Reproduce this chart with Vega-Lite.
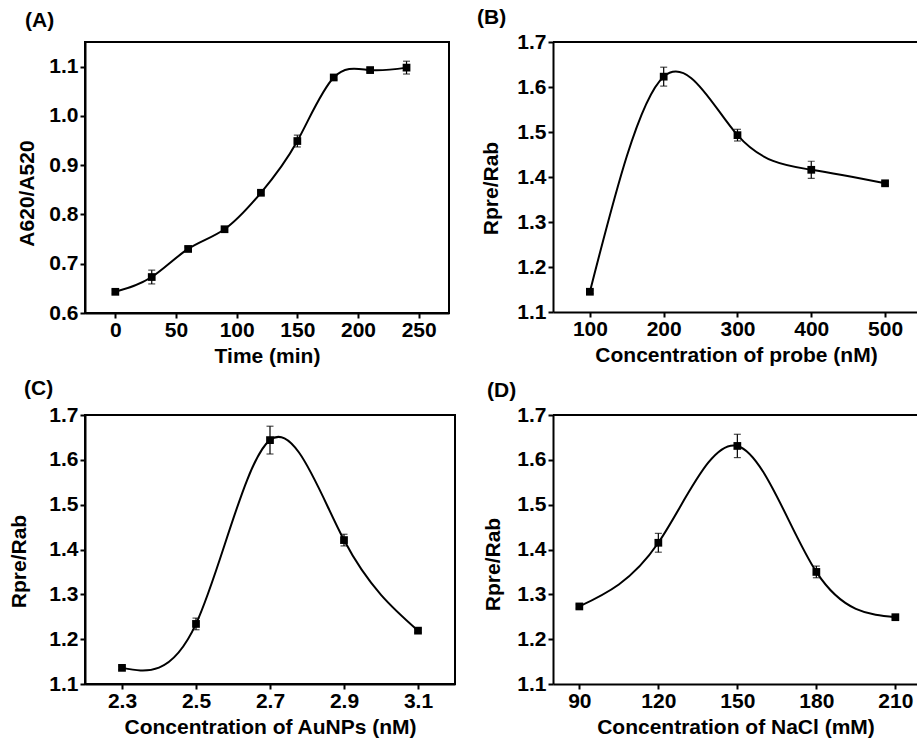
{
  "$schema": "https://vega.github.io/schema/vega-lite/v6.json",
  "background": "white",
  "padding": {"left": 7, "top": 7, "right": 0, "bottom": 5},
  "datasets": {
    "A": [
      {"x": 0, "y": 0.643, "err": 0.004},
      {"x": 30, "y": 0.673, "err": 0.014},
      {"x": 60, "y": 0.730, "err": 0.004},
      {"x": 90, "y": 0.770, "err": 0.004},
      {"x": 120, "y": 0.844, "err": 0.004},
      {"x": 150, "y": 0.949, "err": 0.012},
      {"x": 180, "y": 1.078, "err": 0.004},
      {"x": 210, "y": 1.093, "err": 0.004},
      {"x": 240, "y": 1.098, "err": 0.013}
    ],
    "B": [
      {"x": 100, "y": 1.145, "err": 0.004},
      {"x": 200, "y": 1.623, "err": 0.021},
      {"x": 300, "y": 1.493, "err": 0.013},
      {"x": 400, "y": 1.416, "err": 0.019},
      {"x": 500, "y": 1.386, "err": 0.004}
    ],
    "C": [
      {"x": 2.3, "y": 1.136, "err": 0.004},
      {"x": 2.5, "y": 1.234, "err": 0.013},
      {"x": 2.7, "y": 1.644, "err": 0.031},
      {"x": 2.9, "y": 1.421, "err": 0.013},
      {"x": 3.1, "y": 1.219, "err": 0.004}
    ],
    "D": [
      {"x": 90, "y": 1.273, "err": 0.004},
      {"x": 120, "y": 1.415, "err": 0.021},
      {"x": 150, "y": 1.631, "err": 0.026},
      {"x": 180, "y": 1.350, "err": 0.013},
      {"x": 210, "y": 1.249, "err": 0.004}
    ]
  },
  "config": {
    "font": "Liberation Sans",
    "view": {"stroke": "black", "strokeWidth": 2},
    "axis": {
      "grid": false,
      "domainColor": "black",
      "domainWidth": 2,
      "tickColor": "black",
      "tickWidth": 2,
      "tickSize": 5,
      "labelFont": "Liberation Sans",
      "labelFontWeight": "bold",
      "labelFontSize": 21,
      "labelColor": "black",
      "titleFont": "Liberation Sans",
      "titleFontWeight": "bold",
      "titleFontSize": 21,
      "titleColor": "black"
    },
    "axisX": {"labelPadding": 1, "titlePadding": 5},
    "axisY": {"labelPadding": 2},
    "title": {"font": "Liberation Sans", "fontWeight": "bold", "fontSize": 21, "color": "black", "anchor": "start", "frame": "group", "baseline": "alphabetic"}
  },
  "columns": 2,
  "bounds": "flush",
  "spacing": {"row": 102, "column": 98},
  "concat": [
    {
      "width": 364,
      "height": 271,
      "title": {"text": "(A)", "dx": -60, "offset": 11},
      "data": {"name": "A"},
      "layer": [
        {
          "mark": {"type": "line", "interpolate": "natural", "color": "black", "strokeWidth": 2},
          "encoding": {
            "x": {"field": "x", "type": "quantitative", "title": "Time (min)",
                  "scale": {"domain": [-25, 275], "nice": false, "zero": false},
                  "axis": {"values": [0, 25, 50, 75, 100, 125, 150, 175, 200, 225, 250], "format": "d",
                           "labelExpr": "datum.value % 50 === 0 ? datum.label : ''",
                           "tickSize": {"condition": {"test": "datum.value % 50 === 0", "value": 5}, "value": 3}}},
            "y": {"field": "y", "type": "quantitative", "title": "A620/A520",
                  "scale": {"domain": [0.6, 1.15], "nice": false, "zero": false},
                  "axis": {"values": [0.6, 0.7, 0.8, 0.9, 1.0, 1.1], "format": ".1f", "titlePadding": 11, "titleY": 151}}
          }
        },
        {
          "mark": {"type": "errorbar", "color": "black", "thickness": 1.2, "ticks": {"size": 7, "thickness": 1.2, "color": "black"}},
          "encoding": {
            "x": {"field": "x", "type": "quantitative", "title": "Time (min)"},
            "y": {"field": "y", "type": "quantitative", "title": "A620/A520"},
            "yError": {"field": "err"}
          }
        },
        {
          "mark": {"type": "point", "shape": "square", "filled": true, "size": 60, "color": "black", "opacity": 1},
          "encoding": {
            "x": {"field": "x", "type": "quantitative", "title": "Time (min)"},
            "y": {"field": "y", "type": "quantitative", "title": "A620/A520"}
          }
        }
      ]
    },
    {
      "width": 366,
      "height": 270,
      "view": {"stroke": null},
      "title": {"text": "(B)", "dx": -76, "offset": 3},
      "data": {"name": "B"},
      "layer": [
        {
          "mark": {"type": "rule", "color": "black", "strokeWidth": 2},
          "encoding": {"y": {"datum": 1.7}}
        },
        {
          "mark": {"type": "line", "interpolate": "natural", "color": "black", "strokeWidth": 2},
          "encoding": {
            "x": {"field": "x", "type": "quantitative", "title": "Concentration of probe (nM)",
                  "scale": {"domain": [50, 546], "nice": false, "zero": false},
                  "axis": {"values": [100, 200, 300, 400, 500], "format": "d"}},
            "y": {"field": "y", "type": "quantitative", "title": "Rpre/Rab",
                  "scale": {"domain": [1.1, 1.7], "nice": false, "zero": false},
                  "axis": {"values": [1.1, 1.2, 1.3, 1.4, 1.5, 1.6, 1.7], "format": ".1f", "titlePadding": 15, "titleY": 146}}
          }
        },
        {
          "mark": {"type": "errorbar", "color": "black", "thickness": 1.2, "ticks": {"size": 7, "thickness": 1.2, "color": "black"}},
          "encoding": {
            "x": {"field": "x", "type": "quantitative", "title": "Concentration of probe (nM)"},
            "y": {"field": "y", "type": "quantitative", "title": "Rpre/Rab"},
            "yError": {"field": "err"}
          }
        },
        {
          "mark": {"type": "point", "shape": "square", "filled": true, "size": 60, "color": "black", "opacity": 1},
          "encoding": {
            "x": {"field": "x", "type": "quantitative", "title": "Concentration of probe (nM)"},
            "y": {"field": "y", "type": "quantitative", "title": "Rpre/Rab"}
          }
        }
      ]
    },
    {
      "width": 370,
      "height": 269,
      "title": {"text": "(C)", "dx": -61, "offset": 5},
      "data": {"name": "C"},
      "layer": [
        {
          "mark": {"type": "line", "interpolate": "natural", "color": "black", "strokeWidth": 2},
          "encoding": {
            "x": {"field": "x", "type": "quantitative", "title": "Concentration of AuNPs (nM)",
                  "scale": {"domain": [2.2, 3.2], "nice": false, "zero": false},
                  "axis": {"values": [2.3, 2.5, 2.7, 2.9, 3.1], "format": ".1f"}},
            "y": {"field": "y", "type": "quantitative", "title": "Rpre/Rab",
                  "scale": {"domain": [1.1, 1.7], "nice": false, "zero": false},
                  "axis": {"values": [1.1, 1.2, 1.3, 1.4, 1.5, 1.6, 1.7], "format": ".1f", "titlePadding": 19, "titleY": 146}}
          }
        },
        {
          "mark": {"type": "errorbar", "color": "black", "thickness": 1.2, "ticks": {"size": 7, "thickness": 1.2, "color": "black"}},
          "encoding": {
            "x": {"field": "x", "type": "quantitative", "title": "Concentration of AuNPs (nM)"},
            "y": {"field": "y", "type": "quantitative", "title": "Rpre/Rab"},
            "yError": {"field": "err"}
          }
        },
        {
          "mark": {"type": "point", "shape": "square", "filled": true, "size": 60, "color": "black", "opacity": 1},
          "encoding": {
            "x": {"field": "x", "type": "quantitative", "title": "Concentration of AuNPs (nM)"},
            "y": {"field": "y", "type": "quantitative", "title": "Rpre/Rab"}
          }
        }
      ]
    },
    {
      "width": 365,
      "height": 269,
      "view": {"stroke": null},
      "title": {"text": "(D)", "dx": -66, "offset": 3},
      "data": {"name": "D"},
      "layer": [
        {
          "mark": {"type": "rule", "color": "black", "strokeWidth": 2},
          "encoding": {"y": {"datum": 1.7}}
        },
        {
          "mark": {"type": "line", "interpolate": "natural", "color": "black", "strokeWidth": 2},
          "encoding": {
            "x": {"field": "x", "type": "quantitative", "title": "Concentration of NaCl (mM)",
                  "scale": {"domain": [80, 218.6], "nice": false, "zero": false},
                  "axis": {"values": [90, 120, 150, 180, 210], "format": "d"}},
            "y": {"field": "y", "type": "quantitative", "title": "Rpre/Rab",
                  "scale": {"domain": [1.1, 1.7], "nice": false, "zero": false},
                  "axis": {"values": [1.1, 1.2, 1.3, 1.4, 1.5, 1.6, 1.7], "format": ".1f", "titlePadding": 13, "titleY": 149}}
          }
        },
        {
          "mark": {"type": "errorbar", "color": "black", "thickness": 1.2, "ticks": {"size": 7, "thickness": 1.2, "color": "black"}},
          "encoding": {
            "x": {"field": "x", "type": "quantitative", "title": "Concentration of NaCl (mM)"},
            "y": {"field": "y", "type": "quantitative", "title": "Rpre/Rab"},
            "yError": {"field": "err"}
          }
        },
        {
          "mark": {"type": "point", "shape": "square", "filled": true, "size": 60, "color": "black", "opacity": 1},
          "encoding": {
            "x": {"field": "x", "type": "quantitative", "title": "Concentration of NaCl (mM)"},
            "y": {"field": "y", "type": "quantitative", "title": "Rpre/Rab"}
          }
        }
      ]
    }
  ]
}
